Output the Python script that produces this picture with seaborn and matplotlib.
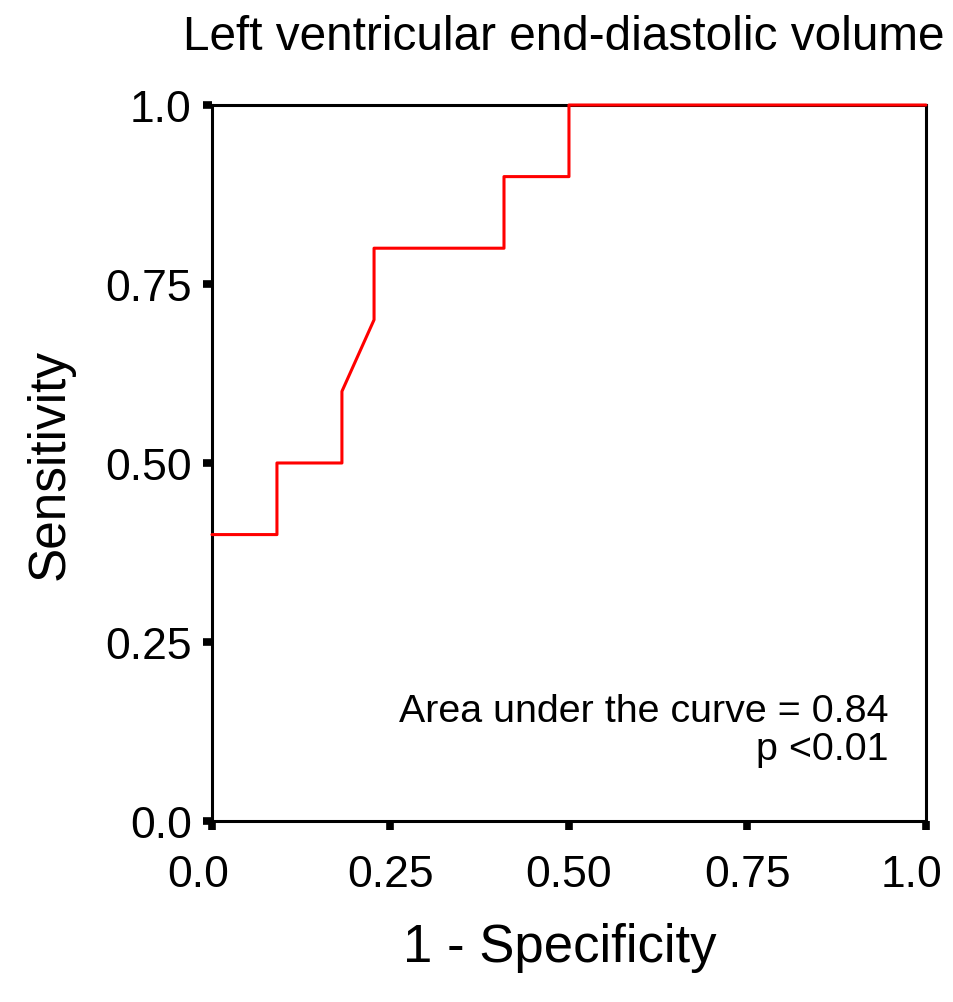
import matplotlib
matplotlib.use("Agg")
import matplotlib.pyplot as plt
import matplotlib.transforms as mtransforms
import seaborn as sns
import pandas as pd

# ROC curve corners
fpr = [0.0, 0.091, 0.091, 0.182, 0.182, 0.227, 0.227, 0.409, 0.409, 0.5, 0.5, 1.0]
tpr = [0.4, 0.4, 0.5, 0.5, 0.6, 0.7, 0.8, 0.8, 0.9, 0.9, 1.0, 1.0]
ticks = [0.0, 0.25, 0.5, 0.75, 1.0]
tick_labels = ["0.0", "0.25", "0.50", "0.75", "1.0"]
auc_text = "Area under the curve = 0.84\np <0.01"

df = pd.DataFrame({"fpr": fpr, "tpr": tpr})

sns.set_style("ticks")
plt.rcParams["font.family"] = ["Liberation Sans Narrow", "Liberation Sans", "DejaVu Sans"]
plt.rcParams["text.color"] = "black"
plt.rcParams["axes.labelcolor"] = "black"
plt.rcParams["xtick.color"] = "black"
plt.rcParams["ytick.color"] = "black"

fig = plt.figure(figsize=(9.54, 10.03), dpi=100)
ax = fig.add_axes([0.2222, 0.1805, 0.7484, 0.7138])

sns.lineplot(data=df, x="fpr", y="tpr", sort=False, estimator=None,
             color="#ff0000", linewidth=2.2, ax=ax, clip_on=False, zorder=5)

ax.set_xlim(0, 1)
ax.set_ylim(0, 1)
ax.set_xticks(ticks)
ax.set_xticklabels(tick_labels)
ax.set_yticks(ticks)
ax.set_yticklabels(tick_labels)
for s in ax.spines.values():
    s.set_linewidth(2.2)
    s.set_color("black")
ax.tick_params(axis="both", direction="out", length=6.5, width=5.5,
               labelsize=32, color="black")
ax.tick_params(axis="x", pad=17)
ax.tick_params(axis="y", pad=8)

# end labels on x sit a little left of their ticks
shift = mtransforms.ScaledTranslation(-14 / 100, 0, fig.dpi_scale_trans)
xlabs = ax.get_xticklabels()
for i in (0, len(xlabs) - 1):
    xlabs[i].set_transform(xlabs[i].get_transform() + shift)

ax.set_title("Left ventricular end-diastolic volume", fontsize=34.4, pad=40, x=0.492)
ax.set_xlabel("1 - Specificity", fontsize=38, labelpad=20, x=0.487)
ax.set_ylabel("Sensitivity", fontsize=37, labelpad=22)

ax.text(0.947, 0.127, auc_text, transform=ax.transAxes, ha="right", va="center",
        fontsize=28.4, linespacing=1.1)

fig.savefig("out.png", dpi=100)
